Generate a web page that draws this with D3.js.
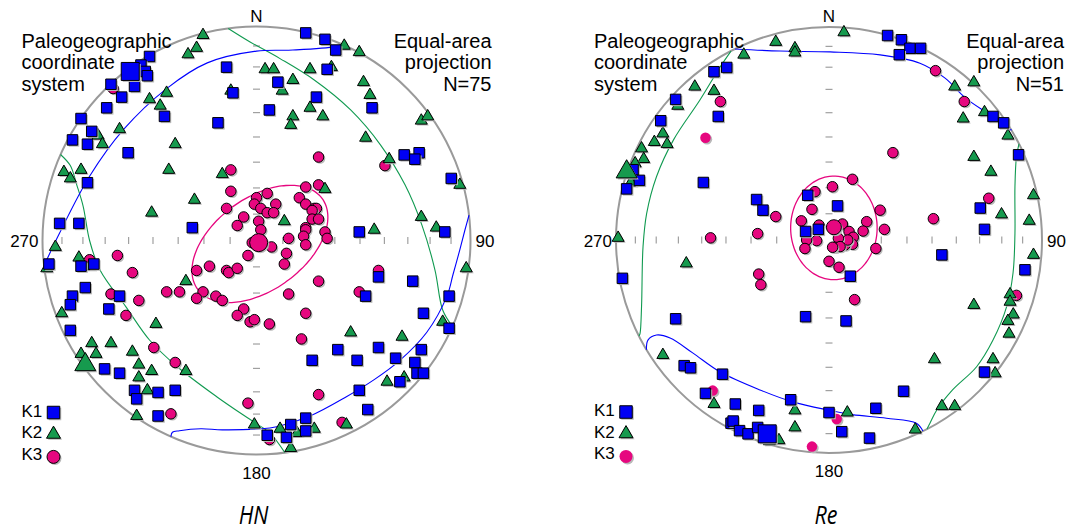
<!DOCTYPE html>
<html>
<head>
<meta charset="utf-8">
<script src="https://cdn.jsdelivr.net/npm/d3@7"></script>
<style>
  body { margin: 0; background: #fff; }
  svg { display: block; font-family: "Liberation Sans", Arial, sans-serif; }
</style>
</head>
<body>
<svg width="1070" height="532"></svg>
<script>
// every point is [east, north] on the equal-area net, in percent of the net radius

// ---- HN ----
var hnK1 = [[23,97],[32,94],[37,89],[33,80],[-14,81],[10,74],[-11,69],[28,67],[54,62],[6,61],[-18,55],[-43,58],
  [-50,86],[-54,82],[-52,79],[-51,77],[-57,72],[-68,73],[-63,67],[-70,62],[-82,57],[-77,51],[-86,47],[-79,45],[-60,41],
  [-79,27],[-92,8],[-83,8],[-30,6],[48,4],[88,4],[91,29],[69,40],[76,41],[74,38],[-97,-11],[-82,-12],[-76,-11],
  [-80,-22],[-86,-26],[-87,-30],[-64,-26],[-69,-32],[-87,-42],[57,-17],[73,-19],[51,-26],[90,-26],[78,-34],[90,-41],
  [38,-51],[57,-50],[26,-56],[47,-56],[65,-55],[77,-51],[74,-57],[75,-62],[78,-62],[67,-66],[48,-70],[52,-79],
  [-71,-60],[-64,-62],[-57,-70],[-56,-74],[-46,-71],[-38,-70],[-46,-82],[23,-83],[16,-86],[23,-89],[5,-91],[14,-92]];
var hnK2 = [[-25,96],[-28,90],[-32,87],[41,91],[48,88],[4,80],[8,80],[25,80],[35,81],[17,75],[12,70],[-12,70],
  [50,74],[53,68],[25,62],[31,58],[17,58],[16,54],[77,56],[80,58],[51,48],[62,38],[32,24],[95,26],[77,11],[84,6],
  [55,5],[13,9],[-42,69],[-45,63],[-50,66],[-64,52],[-74,49],[-72,45],[-38,45],[-41,33],[-16,31],[-29,19],[-49,13],
  [-90,32],[-87,29],[-82,33],[-94,-3],[-83,-8],[-78,-12],[-98,-13],[-33,-19],[-91,-34],[-47,-39],[-77,-48],[-68,-48],
  [-82,-53],[-75,-53],[-58,-52],[-55,-58],[-49,-61],[-33,-61],[-55,-64],[-51,-70],[-56,-82],[44,-43],[68,-45],
  [87,-38],[98,-13],[61,-66],[69,-64],[42,-86],[27,-88],[19,-90],[11,-88],[-1,-86],[16,-97]];
var hnK3 = [[-67,71],[-12,33],[29,39],[60,35],[29,26],[23,25],[-12,23],[5,22],[0,20],[-1,17],[9,17],[20,20],
  [23,17],[27,15],[28,15],[26,14],[-14,15],[2,15],[5,13],[8,13],[-6,11],[-9,7],[1,9],[2,5],[26,10],[29,10],[23,6],
  [23,5],[32,4],[33,1],[22,2],[15,1],[-2,-1],[7,-3],[23,-2],[14,-6],[-4,-7],[13,-11],[-22,-12],[-28,-14],[-14,-14],
  [-13,-15],[-9,-13],[-65,-7],[-78,-9],[-58,-15],[29,-19],[57,-14],[48,-24],[15,-25],[-42,-24],[-36,-24],[-25,-24],
  [-28,-27],[-19,-26],[-16,-28],[-68,-25],[-55,-28],[-61,-35],[-6,-32],[-9,-35],[-3,-38],[-1,-37],[6,-39],[23,-34],
  [21,-46],[-48,-50],[-38,-57],[29,-72],[-4,-76],[-40,-81],[40,-85],[6,-93]];
var hnMeans = [[-59,79],[-80,-58],[1,-1]];          // K1, K2, K3
var hnK1Region = [
  [[40,91.7],[36.7,90.6],[17,89],[0,88.5],[-23,83],[-42,71],[-62,52],[-78,30],[-92,3.5],[-99.3,-11.8]],
  [[99.3,11.8],[97.4,4.9],[95,-4.4],[91.8,-16],[89,-26],[79.5,-43],[67,-56],[55,-65],[42,-73],[25,-82],[9.4,-87],
   [1.6,-88],[-16,-88.5],[-26,-88],[-36,-88.9],[-39.3,-89.6],[-40,-91.7]]];
var hnK2Region = [
  [[-13.2,99.1],[-3,92.8],[11,85],[27,75],[44,61],[58,44.6],[69.4,26],[77.3,7.2],[83.4,-13.8],[87,-32.5],[91.6,-40.2]],
  [[-91.6,40.2],[-87,35],[-84,26],[-81,16],[-78,0],[-73,-14],[-61,-31],[-50,-46.5],[-37,-59],[-18.6,-73],
   [-1.5,-84.7],[6.3,-90],[13.2,-99.1]]];
var hnK3Ellipse = [1.6, -1.6, 36, 21.5, 36];        // centre e, centre n, semi-axes, tilt (deg)

// ---- Re ----
var reK1 = [[-54,79],[-48,81],[-72,66],[-79,56],[-52,58],[-92,33],[-89,28],[-95,24],[-59,27],[-34,19],[-31,14],
  [-10,21],[4,16],[-11,4],[-5,5],[10,-17],[27.5,96],[34,94],[38,90],[43,90],[33,87],[77,58],[82,55],[89,40],[71,15],
  [73,5],[53,-7],[92,-14],[8,-38],[35,-71],[22,-79],[0,-81],[6,-90],[19,-93],[73,-62],[-97,-18],[-72,-37],[-11,-36],
  [-68,-59],[-65,-60],[-50,-63],[-58,-72],[-44,-77],[-33,-80],[-18,-75],[-46,-86],[-45,-85],[-42,-89.5],[-38,-91],
  [-33.5,-88]];
var reK2 = [[-25,93],[-16,90],[-16,88],[-40,87],[-63,72],[-54,70],[-71,63],[-78,50],[-82,46],[-76,45],[-88,43],
  [-87,38],[-91,36],[-93,27],[-99,1],[7,97.5],[59,72],[68,74],[73,60],[63,57],[84,49],[68,39],[76,32],[96,21],[81,12],
  [94,9],[96,-7],[85,-25.5],[85,-29],[86.5,-35],[84,-38],[84.5,-44],[68,-30.5],[77,-56],[78,-62.6],[49.5,-56],
  [53,-78],[59,-78],[40.5,-89],[8.6,-81],[-67,-11],[-78,-54],[-54,-77],[-16,-80],[-16,-88],[-23.5,-94],[-28,-94.5]];
var reK3 = [[-51,65],[-25,11],[-33.5,3],[-55.6,1],[50,79.5],[63.5,65],[30,41],[75,19.6],[49,10],[88,-26],[12,-28],
  [22,-4],[-33,-16],[-32,-21],[11,28.5],[1.6,25],[-6.6,22.7],[-8,14.4],[-13,9],[-4.7,7],[6.3,7.5],[17.7,8.6],[16,4.2],
  [24,14],[26,5],[9.4,4],[11.4,1.3],[11,-2],[7.5,-2.3],[8.8,0],[4.4,0.8],[2.8,-3.4],[5.2,-3.1],[1.7,-3.4],
  [-5.8,-0.3],[-10.5,0],[-11.3,-4],[0,-10],[4.7,-12.8]];
var reK3Plain = [[-58,48],[-54.6,-70.7],[-8,-97],[3.6,-84]];   // drawn without outline
var reMeans = [[-29,-91],[-95,32],[2.3,6]];
var reK1Region = [
  [[-44.1,89.7],[-23,88.7],[0.5,88.3],[24,86.9],[42.7,83],[54.5,76],[64,66.7],[75.6,58.7],[85.7,51.5]],
  [[-85.7,-51.5],[-85,-47],[-81,-44.6],[-74.6,-46],[-64,-53],[-51,-62],[-32.4,-70.4],[-17,-76],[0.5,-80],[11,-82],
   [27,-83.7],[41,-86],[44.1,-89.7]]];
var reK2Region = [
  [[-46,88.7],[-51,81.4],[-60.6,65.7],[-73,47],[-81,29.7],[-85.6,12.5],[-87.3,-3],[-88,-31],[-88.7,-43.8],[-89.2,-45.1]],
  [[89.2,45.1],[88,39],[87.3,25],[87.3,3],[86.4,-15.5],[83.4,-31.3],[77,-47],[69.3,-59.5],[58,-70.4],[50.6,-79.8],
   [47.4,-86],[46,-88.7]]];
var reK3Ellipse = [2.3, 5.7, 20.3, 24.3, 0];

var tickPlunges = [80, 70, 60, 50, 40, 30, 20, 10];
var dirLabels = ["N", "90", "180", "270"];
var legendLabels = ["K1", "K2", "K3"];
var systemText = ["Paleogeographic", "coordinate", "system"];
var hnNote = ["Equal-area", "projection", "N=75"];
var reNote = ["Equal-area", "projection", "N=51"];

var colK1 = "#0000f5", colK2 = "#169a4e", colK3 = "#e6077f";

var svgContainer = d3.select("svg");
svgContainer.append("rect").attr("width", 1070).attr("height", 532).attr("fill", "#fff");

function eqArea(p) {
  return 100 * Math.SQRT2 * Math.sin((90 - p) / 2 * Math.PI / 180);
}

function symbolPath(kind, w) {
  if (kind == "k1") return d3.symbol().type(d3.symbolSquare).size(w * w)();
  if (kind == "k2") return d3.symbol().type(d3.symbolTriangle).size(Math.sqrt(3) / 4 * w * w)();
  return d3.symbol().type(d3.symbolCircle).size(Math.PI * w * w / 4)();
}

function drawMarks(g, pts, kind, w, fill, outline, x, y) {
  var layer = g.append("g");
  pts.forEach(function(d) {
    layer.append("path").attr("d", symbolPath(kind, w))
      .attr("transform", "translate(" + (x(d[0]) + 1.5) + "," + (y(d[1]) + 1.5) + ")")
      .attr("fill", "#b9b9b9");
    layer.append("path").attr("d", symbolPath(kind, w))
      .attr("transform", "translate(" + x(d[0]) + "," + y(d[1]) + ")")
      .attr("fill", fill)
      .attr("stroke", outline ? "#000" : "none").attr("stroke-width", 1);
  });
}

function drawNet(net) {
  var g = svgContainer.append("g");
  var x = d3.scaleLinear().domain([-100, 100]).range([net.cx - net.r, net.cx + net.r]);
  var y = d3.scaleLinear().domain([-100, 100]).range([net.cy + net.r, net.cy - net.r]);

  g.append("circle").attr("cx", x(0)).attr("cy", y(0)).attr("r", net.r)
    .attr("fill", "none").attr("stroke", "#9a9a9a").attr("stroke-width", 2);

  tickPlunges.forEach(function(p) {
    var d = eqArea(p);
    [-d, d].forEach(function(v) {
      g.append("line").attr("x1", x(v)).attr("x2", x(v)).attr("y1", y(0) - 3.5).attr("y2", y(0) + 3.5)
        .attr("stroke", "#a0a0a0").attr("stroke-width", 1.2);
      g.append("line").attr("x1", x(0) - 3.5).attr("x2", x(0) + 3.5).attr("y1", y(v)).attr("y2", y(v))
        .attr("stroke", "#a0a0a0").attr("stroke-width", 1.2);
    });
  });

  var line = d3.line().x(function(d) { return x(d[0]); }).y(function(d) { return y(d[1]); })
    .curve(d3.curveCatmullRom);
  net.k2Region.forEach(function(seg) {
    g.append("path").attr("d", line(seg)).attr("fill", "none").attr("stroke", "#109a50").attr("stroke-width", 1.1);
  });
  net.k1Region.forEach(function(seg) {
    g.append("path").attr("d", line(seg)).attr("fill", "none").attr("stroke", "#0000ff").attr("stroke-width", 1.1);
  });

  var e = net.ellipse, t = e[4] * Math.PI / 180;
  var ell = d3.range(0, 360, 4).map(function(a) {
    var f = a * Math.PI / 180;
    return [e[0] + e[2] * Math.cos(f) * Math.cos(t) - e[3] * Math.sin(f) * Math.sin(t),
            e[1] + e[2] * Math.cos(f) * Math.sin(t) + e[3] * Math.sin(f) * Math.cos(t)];
  });
  g.append("path").attr("d", d3.line().x(function(d) { return x(d[0]); }).y(function(d) { return y(d[1]); })
      .curve(d3.curveCardinalClosed)(ell))
    .attr("fill", "none").attr("stroke", colK3).attr("stroke-width", 1.3);

  drawMarks(g, net.k3, "k3", 10.5, colK3, true, x, y);
  if (net.k3Plain) drawMarks(g, net.k3Plain, "k3", 10.5, colK3, false, x, y);
  drawMarks(g, net.k2, "k2", 12, colK2, true, x, y);
  drawMarks(g, net.k1, "k1", 10.5, colK1, true, x, y);
  drawMarks(g, [net.means[2]], "k3", net.bigCircle, colK3, true, x, y);
  drawMarks(g, [net.means[1]], "k2", 21, colK2, true, x, y);
  drawMarks(g, [net.means[0]], "k1", 18, colK1, true, x, y);

  // compass labels
  g.append("text").attr("x", x(0)).attr("y", y(100) - 5).attr("text-anchor", "middle")
    .attr("font-size", 17).text(dirLabels[0]);
  g.append("text").attr("x", x(100) + 5).attr("y", y(0) + 6.5).attr("text-anchor", "start")
    .attr("font-size", 17).text(dirLabels[1]);
  g.append("text").attr("x", x(0)).attr("y", y(-100) + 24).attr("text-anchor", "middle")
    .attr("font-size", 17).text(dirLabels[2]);
  g.append("text").attr("x", x(-100) - 4).attr("y", y(0) + 6.5).attr("text-anchor", "end")
    .attr("font-size", 17).text(dirLabels[3]);

  systemText.forEach(function(s, i) {
    g.append("text").attr("x", net.cx - 235).attr("y", 47.5 + i * 21.5).attr("font-size", 20).text(s);
  });
  net.note.forEach(function(s, i) {
    g.append("text").attr("x", net.cx + 235).attr("y", 47.5 + i * 21.5).attr("text-anchor", "end")
      .attr("font-size", 20).text(s);
  });

  // legend
  var lg = g.append("g");
  var legKinds = ["k1", "k2", "k3"], legCols = [colK1, colK2, colK3], legW = [12.5, 14, 13];
  legendLabels.forEach(function(s, i) {
    var by = net.cy + 176 + i * 21.7;
    lg.append("text").attr("x", net.cx - 235).attr("y", by).attr("font-size", 17).text(s);
    var my = by - 4 + (i == 2 ? 1 : 0);
    lg.append("path").attr("d", symbolPath(legKinds[i], legW[i]))
      .attr("transform", "translate(" + (net.cx - 201.5) + "," + (my + 1.5) + ")").attr("fill", "#b9b9b9");
    lg.append("path").attr("d", symbolPath(legKinds[i], legW[i]))
      .attr("transform", "translate(" + (net.cx - 203) + "," + my + ")")
      .attr("fill", legCols[i])
      .attr("stroke", (i == 2 && !net.legendK3Outline) ? "none" : "#000").attr("stroke-width", 1);
  });

  g.append("text").attr("transform", "translate(" + (net.cx - 3) + ",524) scale(0.86,1)")
    .attr("text-anchor", "middle").attr("font-family", "'Open Sans', sans-serif")
    .attr("font-style", "italic").attr("font-size", 25).text(net.title);
}

drawNet({cx: 256.5, cy: 240.5, r: 214, k1: hnK1, k2: hnK2, k3: hnK3, means: hnMeans,
  k1Region: hnK1Region, k2Region: hnK2Region, ellipse: hnK3Ellipse, bigCircle: 18,
  note: hnNote, title: "HN", legendK3Outline: true});
drawNet({cx: 829, cy: 240, r: 213, k1: reK1, k2: reK2, k3: reK3, k3Plain: reK3Plain, means: reMeans,
  k1Region: reK1Region, k2Region: reK2Region, ellipse: reK3Ellipse, bigCircle: 15,
  note: reNote, title: "Re", legendK3Outline: false});
</script>
</body>
</html>
